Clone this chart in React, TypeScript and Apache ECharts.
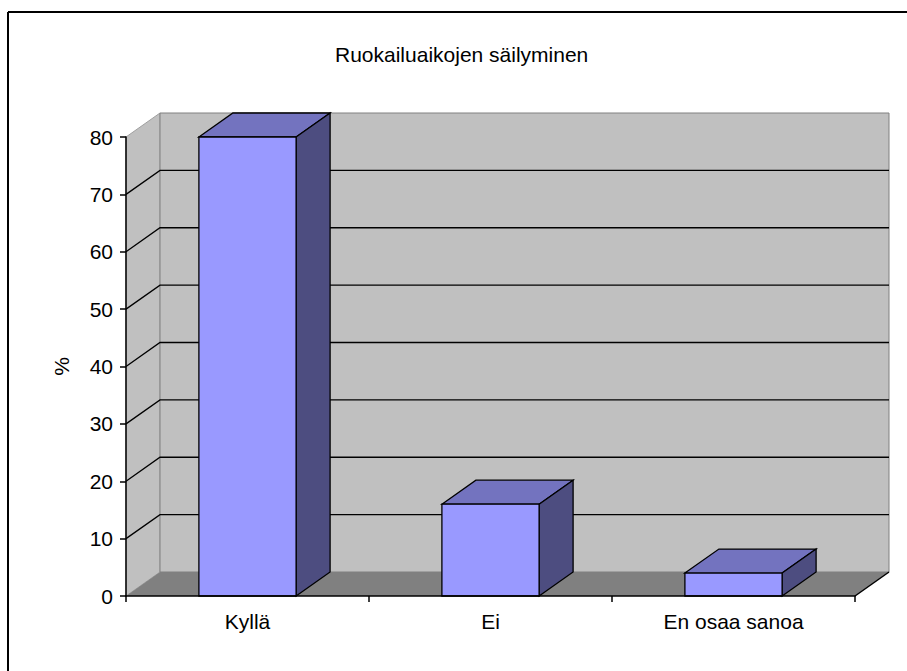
import React, { useEffect, useRef } from "react";
import * as echarts from "echarts";

// Survey answers, share of respondents in percent
const categories = ["Kyllä", "Ei", "En osaa sanoa"];
const shares = [80, 16, 4];

// Value axis range and step
const valueMin = 0;
const valueMax = 80;
const valueStep = 10;

const chartTitle = "Ruokailuaikojen säilyminen";
const valueAxisName = "%";

// Depth offset of the pseudo-3D box (pixels)
const DEPTH_X = 34;
const DEPTH_Y = -24;

const FONT = "'Liberation Sans', Arial, sans-serif";

export default function App() {
  const ref = useRef<HTMLDivElement>(null);

  useEffect(() => {
    if (!ref.current) return;
    const chart = echarts.init(ref.current, null, { renderer: "svg" });

    // Back wall, side wall, floor and the gridlines running across them
    const renderWalls = (params: any, api: any) => {
      const cs = params.coordSys;
      const x0 = cs.x;
      const x1 = cs.x + cs.width;
      const yTop = cs.y;
      const yBot = cs.y + cs.height;
      const children: any[] = [
        {
          type: "polygon",
          shape: {
            points: [
              [x0, yBot],
              [x0, yTop],
              [x0 + DEPTH_X, yTop + DEPTH_Y],
              [x0 + DEPTH_X, yBot + DEPTH_Y],
            ],
          },
          style: { fill: "#C0C0C0", stroke: "#A0A0A0", lineWidth: 1 },
        },
        {
          type: "rect",
          shape: {
            x: x0 + DEPTH_X,
            y: yTop + DEPTH_Y,
            width: cs.width,
            height: cs.height,
          },
          style: { fill: "#C0C0C0", stroke: "#808080", lineWidth: 1 },
        },
        {
          type: "polygon",
          shape: {
            points: [
              [x0, yBot],
              [x0 + DEPTH_X, yBot + DEPTH_Y],
              [x1 + DEPTH_X, yBot + DEPTH_Y],
              [x1, yBot],
            ],
          },
          style: { fill: "#808080" },
        },
        {
          type: "line",
          shape: { x1: x1, y1: yBot, x2: x1 + DEPTH_X, y2: yBot + DEPTH_Y },
          style: { stroke: "#000", lineWidth: 1.5 },
        },
      ];
      for (let v = valueMin + valueStep; v < valueMax; v += valueStep) {
        const y = api.coord([0, v])[1];
        children.push({
          type: "polyline",
          shape: {
            points: [
              [x0, y],
              [x0 + DEPTH_X, y + DEPTH_Y],
              [x1 + DEPTH_X, y + DEPTH_Y],
            ],
          },
          style: { stroke: "#000", lineWidth: 1.3, fill: null },
        });
      }
      return { type: "group", children };
    };

    // One shaded box per category: front, top and right side faces
    const renderBar = (params: any, api: any) => {
      const idx = api.value(0);
      const val = api.value(1);
      const top = api.coord([idx, val]);
      const base = api.coord([idx, valueMin]);
      const w = api.size([1, 0])[0] * 0.4;
      const xl = top[0] - w / 2;
      const xr = top[0] + w / 2;
      const edge = { stroke: "#000", lineWidth: 1.3, lineJoin: "miter" };
      return {
        type: "group",
        children: [
          {
            type: "polygon",
            shape: {
              points: [
                [xl, top[1]],
                [xl + DEPTH_X, top[1] + DEPTH_Y],
                [xr + DEPTH_X, top[1] + DEPTH_Y],
                [xr, top[1]],
              ],
            },
            style: { fill: "#7373BF", ...edge },
          },
          {
            type: "polygon",
            shape: {
              points: [
                [xr, top[1]],
                [xr + DEPTH_X, top[1] + DEPTH_Y],
                [xr + DEPTH_X, base[1] + DEPTH_Y],
                [xr, base[1]],
              ],
            },
            style: { fill: "#4D4D80", ...edge },
          },
          {
            type: "rect",
            shape: { x: xl, y: top[1], width: w, height: base[1] - top[1] },
            style: { fill: "#9999FF", ...edge },
          },
        ],
      };
    };

    chart.setOption({
      animation: false,
      backgroundColor: "#ffffff",
      textStyle: { fontFamily: FONT, color: "#000" },
      title: {
        text: chartTitle,
        left: 335,
        top: 44,
        padding: 0,
        textStyle: {
          fontFamily: FONT,
          fontSize: 21,
          fontWeight: "normal",
          color: "#000",
        },
      },
      grid: {
        left: 126,
        right: 52,
        top: 137,
        bottom: 75,
        containLabel: false,
        outerBoundsMode: "none",
      },
      xAxis: {
        type: "category",
        data: categories,
        boundaryGap: true,
        z: 10,
        axisLine: { lineStyle: { color: "#000", width: 1.5 } },
        axisTick: { show: true, length: 6, alignWithLabel: false, lineStyle: { color: "#000", width: 1.5 } },
        axisLabel: { fontFamily: FONT, fontSize: 21, color: "#000", margin: 15 },
        splitLine: { show: false },
      },
      yAxis: {
        type: "value",
        min: valueMin,
        max: valueMax,
        interval: valueStep,
        z: 10,
        name: valueAxisName,
        nameLocation: "middle",
        nameRotate: 90,
        nameGap: 54,
        nameTextStyle: { fontFamily: FONT, fontSize: 21, color: "#000" },
        axisLine: { show: true, lineStyle: { color: "#000", width: 1.5 } },
        axisTick: { show: true, length: 6, lineStyle: { color: "#000", width: 1.5 } },
        axisLabel: { fontFamily: FONT, fontSize: 21, color: "#000", margin: 13 },
        splitLine: { show: false },
      },
      graphic: [
        {
          type: "line",
          shape: { x1: 8, y1: 12, x2: 907, y2: 12 },
          style: { stroke: "#000", lineWidth: 2 },
        },
        {
          type: "line",
          shape: { x1: 8, y1: 12, x2: 8, y2: 671 },
          style: { stroke: "#000", lineWidth: 2 },
        },
      ],
      series: [
        {
          type: "custom",
          name: "walls",
          coordinateSystem: "cartesian2d",
          clip: false,
          silent: true,
          z: 1,
          data: [[0, valueMin]],
          renderItem: renderWalls,
        },
        {
          type: "custom",
          name: "shares",
          coordinateSystem: "cartesian2d",
          clip: false,
          z: 2,
          data: categories.map((c, i) => [i, shares[i]]),
          renderItem: renderBar,
        },
      ],
    });

    return () => chart.dispose();
  }, []);

  return (
    <div
      ref={ref}
      style={{ position: "fixed", left: 0, top: 0, width: 907, height: 671 }}
    />
  );
}
